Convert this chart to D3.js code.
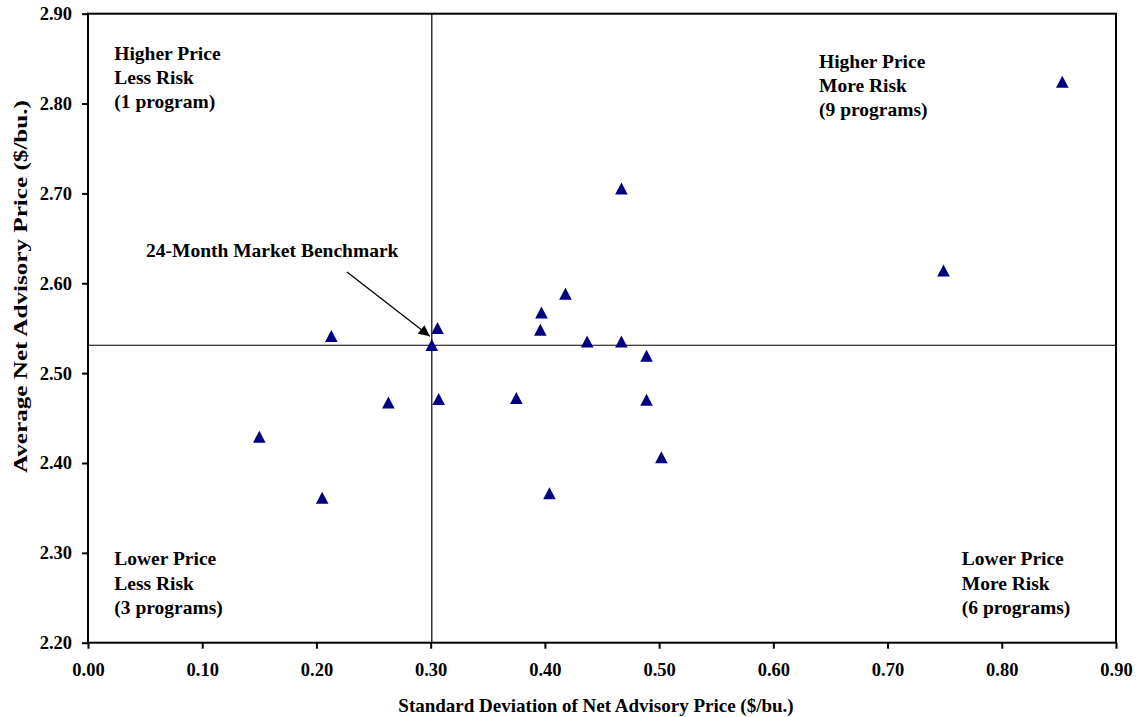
<!DOCTYPE html>
<html>
<head>
<meta charset="utf-8">
<script src="https://cdn.jsdelivr.net/npm/d3@7"></script>
<style>
  html, body { margin: 0; padding: 0; background: #fff; }
  svg text { font-family: "Liberation Serif", "Times New Roman", serif; font-weight: bold; fill: #000; }
</style>
</head>
<body>
<svg id="chart" width="1138" height="717"></svg>
<script>
// Data
const stdDev   = [0.853, 0.749, 0.467, 0.418, 0.397, 0.396, 0.306, 0.437, 0.467, 0.489, 0.307, 0.375, 0.489, 0.263, 0.502, 0.404, 0.213, 0.150, 0.205];
const avgPrice = [2.824, 2.614, 2.705, 2.588, 2.567, 2.548, 2.550, 2.535, 2.535, 2.519, 2.471, 2.472, 2.470, 2.467, 2.406, 2.366, 2.541, 2.429, 2.361];
const benchmark = { sd: 0.301, price: 2.531 };
const xTicks = [0.0, 0.1, 0.2, 0.3, 0.4, 0.5, 0.6, 0.7, 0.8, 0.9];
const yTicks = [2.2, 2.3, 2.4, 2.5, 2.6, 2.7, 2.8, 2.9];
const quadrantLabels = [
  { lines: ["Higher Price", "Less Risk", "(1 program)"],   sd: 0.023, price: 2.849 },
  { lines: ["Higher Price", "More Risk", "(9 programs)"],  sd: 0.640, price: 2.840 },
  { lines: ["Lower Price", "Less Risk", "(3 programs)"],   sd: 0.023, price: 2.286 },
  { lines: ["Lower Price", "More Risk", "(6 programs)"],   sd: 0.765, price: 2.286 }
];
const benchmarkLabel = "24-Month Market Benchmark";

const svg = d3.select("#chart");

const x = d3.scaleLinear().domain([0, 0.9]).range([88, 1116]);
const y = d3.scaleLinear().domain([2.2, 2.9]).range([642.7, 13.7]);

// Quadrant lines
svg.append("line")
  .attr("x1", x(benchmark.sd)).attr("x2", x(benchmark.sd))
  .attr("y1", y(2.9)).attr("y2", y(2.2))
  .attr("stroke", "#000").attr("stroke-width", 1.2);
svg.append("line")
  .attr("x1", x(0)).attr("x2", x(0.9))
  .attr("y1", y(benchmark.price)).attr("y2", y(benchmark.price))
  .attr("stroke", "#000").attr("stroke-width", 1.2);

// Axes
const xAxis = d3.axisBottom(x).tickValues(xTicks).tickFormat(d3.format(".2f")).tickSize(6).tickPadding(14);
const yAxis = d3.axisLeft(y).tickValues(yTicks).tickFormat(d3.format(".2f")).tickSize(6).tickPadding(10);

const gx = svg.append("g").attr("transform", `translate(0,${y(2.2)})`).call(xAxis);
const gy = svg.append("g").attr("transform", `translate(${x(0)},0)`).call(yAxis);
[gx, gy].forEach(g => {
  g.select(".domain").remove();
  g.selectAll(".tick line").attr("stroke", "#000").attr("stroke-width", 2);
  g.selectAll(".tick text").style("font-size", "18.5px").attr("fill", "#000");
});

// Frame
svg.append("rect")
  .attr("x", x(0)).attr("y", y(2.9))
  .attr("width", x(0.9) - x(0)).attr("height", y(2.2) - y(2.9))
  .attr("fill", "none").attr("stroke", "#000").attr("stroke-width", 2);

// Axis titles
svg.append("text")
  .attr("x", 596).attr("y", 712)
  .attr("text-anchor", "middle")
  .style("font-size", "19px")
  .text("Standard Deviation of Net Advisory Price ($/bu.)");
svg.append("text")
  .attr("transform", "translate(27,286.5) rotate(-90)")
  .attr("text-anchor", "middle")
  .attr("textLength", 373)
  .attr("lengthAdjust", "spacingAndGlyphs")
  .style("font-size", "19px")
  .text("Average Net Advisory Price ($/bu.)");

// Quadrant labels
quadrantLabels.forEach(q => {
  const t = svg.append("text").attr("x", x(q.sd)).attr("y", y(q.price)).style("font-size", "19.5px");
  q.lines.forEach((ln, i) => {
    t.append("tspan").attr("x", x(q.sd)).attr("dy", i === 0 ? 0 : 24.3).text(ln);
  });
});

// Benchmark annotation
svg.append("text").attr("x", 146).attr("y", 257).style("font-size", "19.5px").text(benchmarkLabel);
svg.append("defs").append("marker")
  .attr("id", "arrow").attr("viewBox", "0 0 10 10")
  .attr("refX", 10).attr("refY", 5)
  .attr("markerWidth", 13).attr("markerHeight", 11)
  .attr("markerUnits", "userSpaceOnUse")
  .attr("orient", "auto")
  .append("path").attr("d", "M0,0 L10,5 L0,10 Z").attr("fill", "#000");
const ax1 = 347, ay1 = 272;
const ax2 = x(benchmark.sd) - 2, ay2 = y(benchmark.price) - 9;
svg.append("line")
  .attr("x1", ax1).attr("y1", ay1).attr("x2", ax2).attr("y2", ay2)
  .attr("stroke", "#000").attr("stroke-width", 1.3)
  .attr("marker-end", "url(#arrow)");

// Points (triangles)
const tri = "M0,-6.3 L6.3,5.7 L-6.3,5.7 Z";
const pts = stdDev.map((d, i) => ({ sd: d, price: avgPrice[i] }));
pts.push(benchmark);
svg.append("g").selectAll("path")
  .data(pts)
  .join("path")
  .attr("d", tri)
  .attr("transform", d => `translate(${x(d.sd)},${y(d.price)})`)
  .attr("fill", "#000080");
</script>
</body>
</html>
